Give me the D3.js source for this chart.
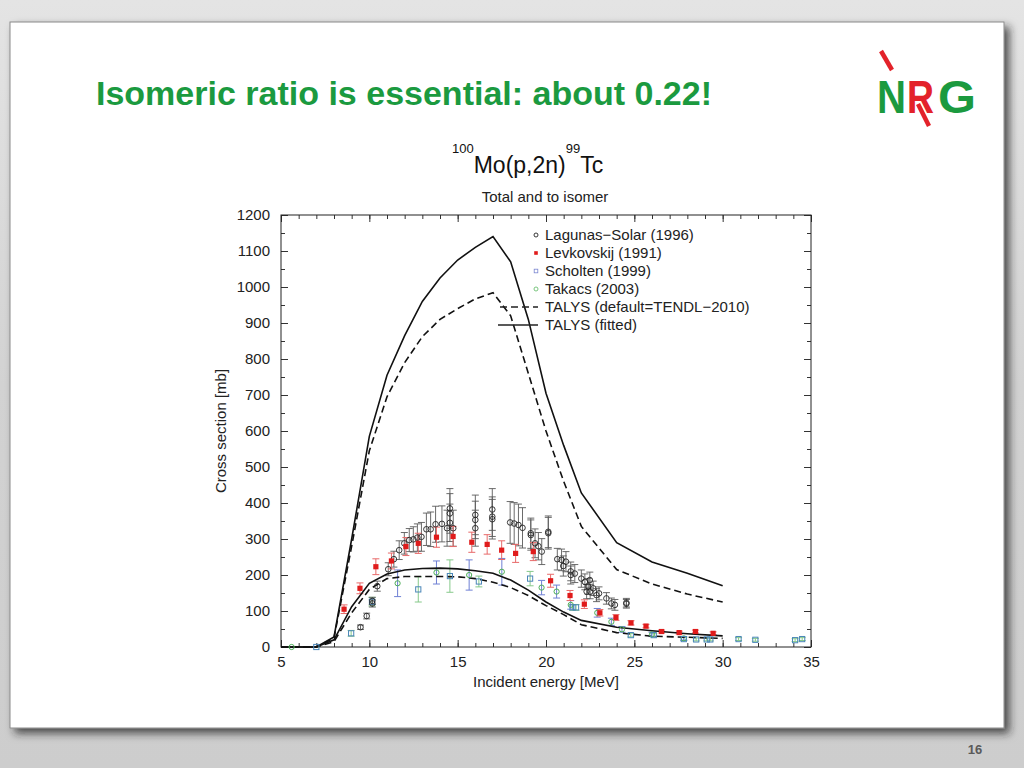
<!DOCTYPE html>
<html>
<head>
<meta charset="utf-8">
<script src="https://cdn.jsdelivr.net/npm/d3@7/dist/d3.min.js"></script>
<style>
  body { margin: 0; overflow: hidden; background: #d8d8d8; }
  text { font-family: "Liberation Sans", Arial, sans-serif; }
</style>
</head>
<body>
<div id="slide"></div>
<script>
// ---- data ----
const xTicks = [5, 10, 15, 20, 25, 30, 35];
const yTicks = [0, 100, 200, 300, 400, 500, 600, 700, 800, 900, 1000, 1100, 1200];

// [energy MeV, cross section mb, error mb]
const lagunasSolar = [
  [9.5, 55, 6], [9.85, 86, 8], [10.17, 121, 10], [10.17, 128, 10], [10.45, 169, 14],
  [11.07, 216, 18], [11.39, 244, 22], [11.69, 269, 26], [11.98, 288, 30], [12.26, 297, 32],
  [12.49, 299, 35], [12.72, 304, 38], [12.95, 306, 40], [13.23, 327, 45], [13.47, 327, 48],
  [13.75, 341, 50], [14.11, 342, 50], [14.4, 330, 50], [14.56, 345, 52], [14.56, 371, 55],
  [14.56, 385, 55], [14.75, 330, 50], [16.0, 330, 50], [16.0, 353, 52], [16.0, 367, 55],
  [16.96, 355, 55], [16.96, 362, 55], [16.96, 382, 58], [17.97, 346, 58], [18.2, 343, 58],
  [18.44, 339, 58], [18.67, 331, 56], [19.14, 316, 42], [19.14, 311, 42], [19.38, 288, 40],
  [19.57, 280, 38], [19.76, 265, 36], [20.13, 320, 44], [20.13, 316, 44], [20.64, 244, 30],
  [20.88, 242, 30], [20.98, 225, 28], [21.13, 237, 28], [21.4, 210, 26], [21.4, 200, 25],
  [21.63, 204, 25], [22.0, 190, 24], [22.2, 181, 22], [22.39, 168, 22], [22.48, 186, 22],
  [22.3, 154, 20], [22.5, 154, 20], [22.67, 163, 20], [22.86, 144, 18], [23.0, 149, 18],
  [23.42, 135, 16], [23.7, 121, 15], [23.9, 117, 15], [24.55, 123, 12], [24.55, 120, 12]
];
const levkovskij = [
  [8.57, 105, 12], [9.47, 163, 15], [10.37, 223, 22], [11.25, 239, 22], [12.07, 279, 25],
  [12.77, 288, 28], [13.8, 305, 28], [14.74, 307, 28], [15.8, 291, 28], [16.67, 285, 27],
  [17.49, 269, 26], [18.28, 260, 25], [19.28, 265, 25], [20.26, 184, 18], [21.36, 143, 14],
  [22.17, 119, 12], [23.05, 95, 9], [23.96, 82, 8], [24.81, 67, 6], [25.66, 58, 5],
  [26.54, 43, 4], [27.54, 40, 4], [28.46, 43, 4], [29.46, 38, 4]
];
const scholten = [
  [7.0, 0, 1], [8.97, 38, 8], [10.15, 126, 12], [12.77, 160, 35], [14.56, 197, 45],
  [16.2, 182, 15], [19.1, 190, 20], [21.5, 110, 8], [21.7, 110, 8], [24.8, 33, 5],
  [26.1, 33, 5], [27.8, 22, 4], [28.5, 21, 4], [29.1, 21, 4], [29.3, 21, 4],
  [30.9, 22, 4], [31.85, 20, 4], [34.1, 19, 4], [34.5, 22, 4]
];
const takacs = [
  [5.6, 0, 1], [11.6, 177, 37], [13.8, 207, 32], [15.65, 200, 42], [17.5, 209, 37],
  [19.75, 165, 20], [20.6, 154, 18], [21.4, 117, 12], [22.9, 95, 12], [23.7, 70, 10],
  [24.3, 49, 8], [26.0, 35, 6], [27.8, 24, 5]
];

// [energy MeV, cross section mb]
const talysDefaultTotal = [
  [5, 0], [7, 0], [8, 25], [9, 280], [10, 545], [11, 695], [12, 790], [13, 862], [14, 910],
  [15, 940], [16, 967], [17, 984], [18, 920], [19, 760], [20, 600], [21, 460], [22, 335],
  [24, 215], [26, 175], [28, 147], [30, 125]
];
const talysFittedTotal = [
  [5, 0], [7, 0], [8, 28], [9, 300], [10, 585], [11, 755], [12, 865], [13, 960], [14, 1025],
  [15, 1075], [16, 1110], [17, 1140], [18, 1070], [19, 910], [20, 705], [21, 560], [22, 428],
  [24, 290], [26, 236], [28, 205], [30, 170]
];
const talysDefaultIsomer = [
  [5, 0], [7, 0], [8, 15], [9, 95], [10, 160], [11, 190], [12, 196], [13, 196], [14, 196],
  [15, 195], [16, 190], [17, 180], [18, 165], [19, 143], [20, 115], [21, 90], [22, 62],
  [24, 40], [26, 30], [28, 27], [30, 24]
];
const talysFittedIsomer = [
  [5, 0], [7, 0], [8, 20], [9, 112], [10, 177], [11, 203], [12, 214], [13, 218], [14, 219],
  [15, 217], [16, 212], [17, 205], [18, 186], [19, 158], [20, 125], [21, 97], [22, 74],
  [24, 55], [26, 45], [28, 37], [30, 31]
];

const legendLabels = ["Lagunas\u2212Solar (1996)", "Levkovskij (1991)", "Scholten (1999)",
  "Takacs (2003)", "TALYS (default=TENDL\u22122010)", "TALYS (fitted)"];

// ---- page ----
const W = 1024, H = 768;
const svg = d3.select("#slide").append("svg")
  .attr("width", W).attr("height", H);

const defs = svg.append("defs");
const bg = defs.append("linearGradient").attr("id", "bg")
  .attr("x1", "0%").attr("y1", "0%").attr("x2", "0%").attr("y2", "100%");
bg.append("stop").attr("offset", "0%").attr("stop-color", "#e4e4e4");
bg.append("stop").attr("offset", "50%").attr("stop-color", "#d2d2d2");
bg.append("stop").attr("offset", "100%").attr("stop-color", "#cdcdcd");

const shadow = defs.append("filter").attr("id", "shadow")
  .attr("x", "-5%").attr("y", "-5%").attr("width", "115%").attr("height", "115%");
shadow.append("feDropShadow").attr("dx", 5).attr("dy", 5)
  .attr("stdDeviation", 4).attr("flood-color", "#222").attr("flood-opacity", 0.75);

svg.append("rect").attr("width", W).attr("height", H).attr("fill", "url(#bg)");

// white panel
svg.append("rect")
  .attr("x", 10).attr("y", 22).attr("width", 994).attr("height", 706)
  .attr("fill", "white").attr("stroke", "#8a8a8a").attr("stroke-width", 1)
  .attr("filter", "url(#shadow)");

// slide title
svg.append("text")
  .attr("x", 96).attr("y", 105)
  .attr("font-size", 34).attr("font-weight", "bold")
  .attr("fill", "#1b9a3f")
  .text("Isomeric ratio is essential: about 0.22!");

// NRG logo, one text per letter
const logo = svg.append("g").attr("font-weight", "bold").attr("font-size", 46);
logo.append("line")
  .attr("x1", 881).attr("y1", 51).attr("x2", 892).attr("y2", 70)
  .attr("stroke", "#e3222a").attr("stroke-width", 4.5);
logo.append("text").attr("x", 877).attr("y", 113).attr("fill", "#1b9a3f")
  .attr("textLength", 29).attr("lengthAdjust", "spacingAndGlyphs").text("N");
logo.append("text").attr("x", 907).attr("y", 113).attr("fill", "#e3222a")
  .attr("textLength", 27).attr("lengthAdjust", "spacingAndGlyphs").text("R");
logo.append("text").attr("x", 938).attr("y", 113).attr("fill", "#1b9a3f")
  .attr("textLength", 38).attr("lengthAdjust", "spacingAndGlyphs").text("G");
logo.append("line")
  .attr("x1", 918).attr("y1", 104).attr("x2", 929).attr("y2", 126)
  .attr("stroke", "#e3222a").attr("stroke-width", 4.5);

// page number
svg.append("text")
  .attr("x", 975).attr("y", 754).attr("text-anchor", "middle")
  .attr("font-size", 13).attr("font-weight", "bold").attr("fill", "#5a5a5a")
  .text("16");

// ---- chart ----
const plot = { left: 281, right: 811, top: 215, bottom: 647 };
const x = d3.scaleLinear().domain([5, 35]).range([plot.left, plot.right]);
const y = d3.scaleLinear().domain([0, 1200]).range([plot.bottom, plot.top]);

const chart = svg.append("g").attr("fill", "#222");

// chart titles
const t1 = chart.append("text")
  .attr("x", 452).attr("y", 173)
  .attr("font-size", 23).attr("fill", "#111");
t1.append("tspan").attr("font-size", 13).attr("dy", -20).text("100");
t1.append("tspan").attr("dy", 20).text("Mo(p,2n)");
t1.append("tspan").attr("font-size", 13).attr("dy", -20).text("99");
t1.append("tspan").attr("dy", 20).text("Tc");

chart.append("text")
  .attr("x", 545).attr("y", 202).attr("text-anchor", "middle")
  .attr("font-size", 15).attr("fill", "#222")
  .text("Total and to isomer");

// axes (ticks pointing inward, on all four sides)
const minorX = d3.range(5, 35.001, 1);
const minorY = d3.range(0, 1200.001, 50);

function styleAxis(g) {
  g.select(".domain").remove();
  g.selectAll("line").attr("stroke", "#333");
  g.selectAll("text").attr("font-size", 15).attr("fill", "#222")
    .attr("font-family", '"Liberation Sans", Arial, sans-serif');
}

chart.append("g").attr("transform", `translate(0,${plot.bottom})`)
  .call(d3.axisBottom(x).tickValues(xTicks).tickFormat(d3.format("d"))
    .tickSizeInner(-7).tickSizeOuter(0).tickPadding(9))
  .call(styleAxis);
chart.append("g").attr("transform", `translate(0,${plot.bottom})`)
  .call(d3.axisBottom(x).tickValues(minorX).tickSize(-4).tickFormat(""))
  .call(styleAxis);
chart.append("g").attr("transform", `translate(0,${plot.top})`)
  .call(d3.axisTop(x).tickValues(xTicks).tickSize(-7).tickFormat(""))
  .call(styleAxis);
chart.append("g").attr("transform", `translate(0,${plot.top})`)
  .call(d3.axisTop(x).tickValues(minorX).tickSize(-4).tickFormat(""))
  .call(styleAxis);

chart.append("g").attr("transform", `translate(${plot.left},0)`)
  .call(d3.axisLeft(y).tickValues(yTicks).tickFormat(d3.format("d"))
    .tickSizeInner(-7).tickSizeOuter(0).tickPadding(11))
  .call(styleAxis);
chart.append("g").attr("transform", `translate(${plot.left},0)`)
  .call(d3.axisLeft(y).tickValues(minorY).tickSize(-4).tickFormat(""))
  .call(styleAxis);
chart.append("g").attr("transform", `translate(${plot.right},0)`)
  .call(d3.axisRight(y).tickValues(yTicks).tickSize(-7).tickFormat(""))
  .call(styleAxis);
chart.append("g").attr("transform", `translate(${plot.right},0)`)
  .call(d3.axisRight(y).tickValues(minorY).tickSize(-4).tickFormat(""))
  .call(styleAxis);

chart.append("rect")
  .attr("x", plot.left).attr("y", plot.top)
  .attr("width", plot.right - plot.left).attr("height", plot.bottom - plot.top)
  .attr("fill", "none").attr("stroke", "#222").attr("stroke-width", 1);

// axis titles
chart.append("text")
  .attr("x", (plot.left + plot.right) / 2).attr("y", 687).attr("text-anchor", "middle")
  .attr("font-size", 15).text("Incident energy [MeV]");
chart.append("text")
  .attr("transform", `translate(226,${(plot.top + plot.bottom) / 2}) rotate(-90)`)
  .attr("text-anchor", "middle").attr("font-size", 15).text("Cross section [mb]");

// error bars
function errorBars(data, color, width) {
  const g = chart.append("g").attr("stroke", color).attr("stroke-width", width);
  const cap = 3.5;
  const sel = g.selectAll("g").data(data).join("g");
  sel.append("line")
    .attr("x1", d => x(d[0])).attr("x2", d => x(d[0]))
    .attr("y1", d => y(Math.max(0, d[1] - d[2]))).attr("y2", d => y(d[1] + d[2]));
  sel.append("line")
    .attr("x1", d => x(d[0]) - cap).attr("x2", d => x(d[0]) + cap)
    .attr("y1", d => y(d[1] + d[2])).attr("y2", d => y(d[1] + d[2]));
  sel.append("line")
    .attr("x1", d => x(d[0]) - cap).attr("x2", d => x(d[0]) + cap)
    .attr("y1", d => y(Math.max(0, d[1] - d[2]))).attr("y2", d => y(Math.max(0, d[1] - d[2])));
}

errorBars(scholten, "#86c98a", 1);
errorBars(takacs, "#6f80d4", 1);
errorBars(lagunasSolar, "#5a5a5a", 0.9);
errorBars(levkovskij, "#e86a6a", 1);

// model curves
const line = d3.line().x(d => x(d[0])).y(d => y(d[1]));
const curves = [
  [talysDefaultTotal, "7,4"], [talysFittedTotal, null],
  [talysDefaultIsomer, "7,4"], [talysFittedIsomer, null]
];
curves.forEach(([data, dash]) => {
  chart.append("path").datum(data)
    .attr("d", line)
    .attr("fill", "none").attr("stroke", "#111").attr("stroke-width", 1.6)
    .attr("stroke-dasharray", dash);
});

// markers
chart.append("g").selectAll("circle").data(takacs).join("circle")
  .attr("cx", d => x(d[0])).attr("cy", d => y(d[1])).attr("r", 2.6)
  .attr("fill", "none").attr("stroke", "#4cae57").attr("stroke-width", 1);
chart.append("g").selectAll("rect").data(scholten).join("rect")
  .attr("x", d => x(d[0]) - 2.6).attr("y", d => y(d[1]) - 2.6)
  .attr("width", 5.2).attr("height", 5.2)
  .attr("fill", "none").attr("stroke", "#4a86b8").attr("stroke-width", 1);
chart.append("g").selectAll("circle").data(lagunasSolar).join("circle")
  .attr("cx", d => x(d[0])).attr("cy", d => y(d[1])).attr("r", 2.8)
  .attr("fill", "none").attr("stroke", "#222").attr("stroke-width", 0.9);
chart.append("g").selectAll("rect").data(levkovskij).join("rect")
  .attr("x", d => x(d[0]) - 2.6).attr("y", d => y(d[1]) - 2.6)
  .attr("width", 5.2).attr("height", 5.2)
  .attr("fill", "#e01b1b");

// legend
const legend = chart.append("g");
const rowY = i => 235 + i * 18;
legend.selectAll("text").data(legendLabels).join("text")
  .attr("x", 545).attr("y", (d, i) => rowY(i) + 5)
  .attr("font-size", 15).attr("fill", "#222").text(d => d);
legend.append("circle").attr("cx", 536).attr("cy", rowY(0)).attr("r", 2)
  .attr("fill", "none").attr("stroke", "#222").attr("stroke-width", 0.9);
legend.append("rect").attr("x", 534.2).attr("y", rowY(1) - 1.8).attr("width", 3.6).attr("height", 3.6)
  .attr("fill", "#e01b1b");
legend.append("rect").attr("x", 534.2).attr("y", rowY(2) - 1.8).attr("width", 3.6).attr("height", 3.6)
  .attr("fill", "none").attr("stroke", "#7a86d0").attr("stroke-width", 0.8);
legend.append("circle").attr("cx", 536).attr("cy", rowY(3)).attr("r", 2)
  .attr("fill", "none").attr("stroke", "#6cc070").attr("stroke-width", 0.9);
legend.append("line").attr("x1", 500).attr("x2", 538).attr("y1", rowY(4)).attr("y2", rowY(4))
  .attr("stroke", "#222").attr("stroke-width", 1.3).attr("stroke-dasharray", "7,4");
legend.append("line").attr("x1", 498).attr("x2", 538).attr("y1", rowY(5)).attr("y2", rowY(5))
  .attr("stroke", "#222").attr("stroke-width", 1.3);
</script>
</body>
</html>
